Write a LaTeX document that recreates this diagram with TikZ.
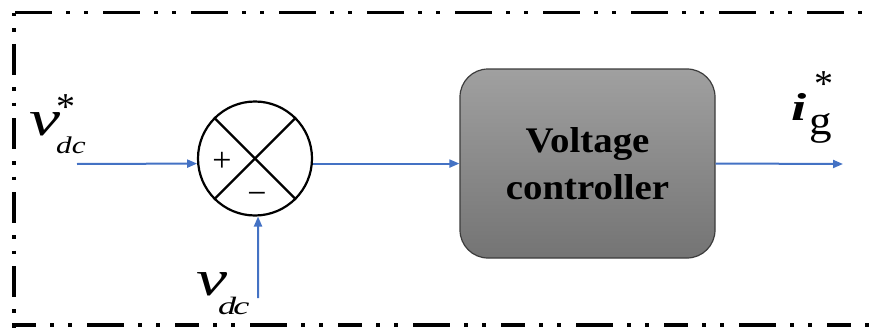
\documentclass[tikz,border=0pt]{standalone}
\usepackage{fontspec}
\setmainfont{Liberation Serif}
\usetikzlibrary{arrows.meta}
\definecolor{sigblue}{HTML}{4472C4}
\definecolor{boxtop}{RGB}{160,160,160}
\definecolor{boxbot}{RGB}{116,116,116}
\definecolor{boxedge}{RGB}{60,60,60}
\newcommand{\hstretch}[2]{\scalebox{#1}[1]{#2}}
\tikzset{
  frameline/.style={line width=3.5pt, black},
  signal/.style={draw=sigblue, line width=2pt, -{Triangle[length=10pt,width=8pt]}},
  junction/.style={circle, draw=black, line width=2.2pt, minimum size=114pt, inner sep=0pt},
  ctrlbox/.style={draw=boxedge, line width=1.2pt, rounded corners=28pt,
    top color=boxtop, bottom color=boxbot, minimum width=255pt, minimum height=189pt,
    align=center, font=\fontsize{36}{47}\selectfont\bfseries},
  sym/.style={inner sep=0pt, anchor=base west},
  sign/.style={inner sep=0pt, anchor=base, font=\fontsize{34}{34}\selectfont}
}
\begin{document}
\begin{tikzpicture}[x=1pt, y=-1pt]
  \useasboundingbox (0,0) rectangle (869,329);

  % dash-dot-dot frame
  \draw[frameline, dash pattern=on 37 off 14 on 4 off 14 on 4 off 15] (15,12.5) -- (869,12.5);
  \draw[frameline, dash pattern=on 3.5 off 12 on 3.5 off 12 on 31 off 12] (14,13) -- (14,329);
  \draw[frameline, dash pattern=on 24 off 14 on 4 off 14 on 4 off 15 on 37 off 14 on 4 off 14 on 4 off 15] (12,325) -- (869,325);

  % summing junction
  \node[junction] (sum) at (255,158.5) {};
  \draw[line width=2.2pt] (sum.135) -- (sum.315);
  \draw[line width=2.2pt] (sum.45) -- (sum.225);
  \node[sign] (plus) at (222,171) {+};
  \node[sign] (minus) at (257,204) {−};

  % controller block
  \node[ctrlbox] (ctrl) at (587.5,163.5) {\hstretch{1.08}{Voltage}\\\hstretch{1.08}{controller}};

  % signal ends
  \coordinate (vin) at (77,164);
  \coordinate (vfb) at (258,298);
  \coordinate (iout) at (843,164);

  % signals
  \draw[signal] (vin) -- (sum.185);
  \draw[signal] (vfb) -- (sum.273);
  \draw[signal] (sum.355) -- (ctrl.west |- sum.355);
  \draw[signal] (ctrl.east) -- (iout);

  % reference voltage label
  \node[sym, font=\fontsize{50}{50}\selectfont\itshape] (vr) at (29,135) {\hstretch{1.4}{v}};
  \node[sym, font=\fontsize{24}{24}\selectfont\itshape] (vrsub) at (56,153) {\hstretch{1.3}{dc}};
  \node[sym, font=\fontsize{38}{38}\selectfont] (vrstar) at (56,119) {*};

  % measured voltage label
  \node[sym, font=\fontsize{50}{50}\selectfont\itshape] (vm) at (196,295) {\hstretch{1.4}{v}};
  \node[sym, font=\fontsize{25}{25}\selectfont\itshape] (vmsub) at (218,314) {\hstretch{1.45}{d\kern-2pt c}};

  % current reference label
  \node[sym, font=\fontsize{39}{39}\selectfont\bfseries\itshape] (ir) at (791,120) {\hstretch{1.4}{i}};
  \node[sym, font=\fontsize{41}{41}\selectfont] (irsub) at (809,134) {\hstretch{1.1}{g}};
  \node[sym, font=\fontsize{38}{38}\selectfont] (irstar) at (814,96) {*};
\end{tikzpicture}
\end{document}
